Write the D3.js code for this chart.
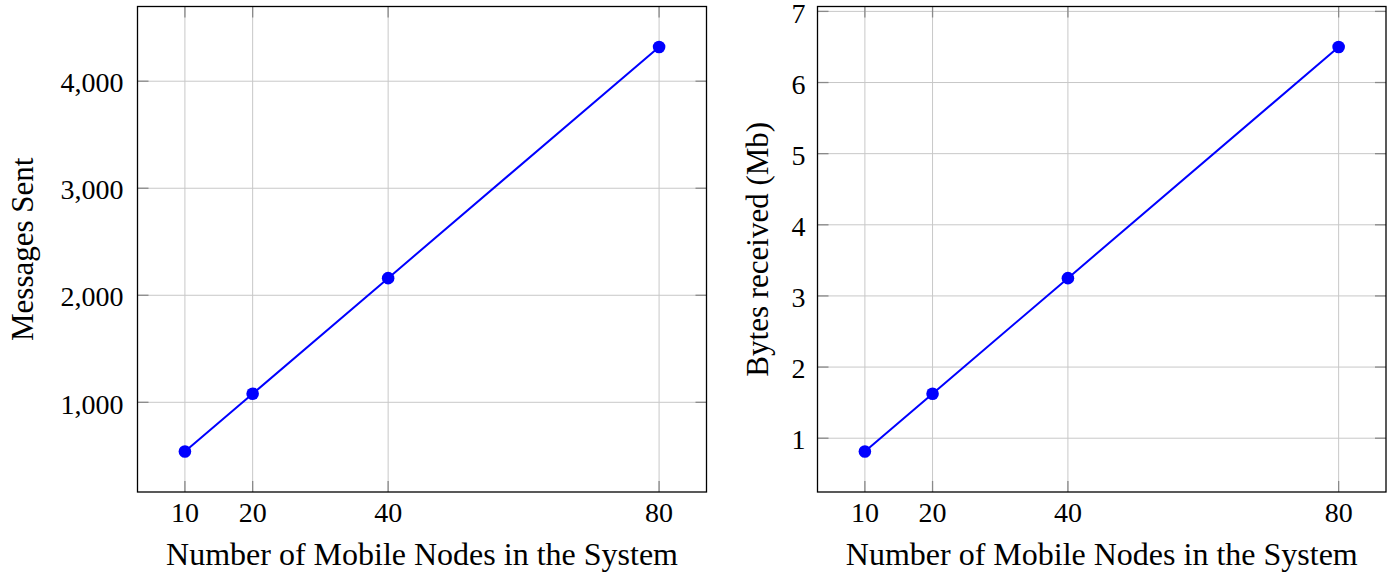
<!DOCTYPE html>
<html>
<head>
<meta charset="utf-8">
<script src="https://cdn.jsdelivr.net/npm/d3@7"></script>
<style>
  html, body { margin: 0; padding: 0; background: #fff; }
  svg { display: block; }
  text { font-family: "Liberation Serif", "DejaVu Serif", serif; fill: #000; }
</style>
</head>
<body>
<svg id="chart" width="1394" height="572"></svg>
<script>
// ---- data ----
const nodes = [10, 20, 40, 80];
const messagesSent = [540, 1080, 2160, 4320];
const bytesReceived = [0.8125, 1.625, 3.25, 6.5];
const xTicks = [10, 20, 40, 80];
const msgTicks = [1000, 2000, 3000, 4000];
const bytesTicks = [1, 2, 3, 4, 5, 6, 7];
const xLabel = "Number of Mobile Nodes in the System";
const msgLabel = "Messages Sent";
const bytesLabel = "Bytes received (Mb)";

const svg = d3.select("#chart");

function panel(opts) {
  const { left, right, top, bottom, xs, ys, yTicks, yFmt, yLabel, yLabelX, tickLabelGap } = opts;
  // enlarge limits by 10% like pgfplots
  const xr = d3.extent(xs), yr = d3.extent(ys);
  const xpad = (xr[1] - xr[0]) * 0.1, ypad = (yr[1] - yr[0]) * 0.1;
  const x = d3.scaleLinear().domain([xr[0] - xpad, xr[1] + xpad]).range([left, right]);
  const y = d3.scaleLinear().domain([yr[0] - ypad, yr[1] + ypad]).range([bottom, top]);
  const g = svg.append("g");

  // grid
  g.append("g").selectAll("line").data(xTicks).join("line")
    .attr("x1", d => x(d)).attr("x2", d => x(d))
    .attr("y1", top).attr("y2", bottom)
    .attr("stroke", "#c8c8c8").attr("stroke-width", 1);
  g.append("g").selectAll("line").data(yTicks).join("line")
    .attr("y1", d => y(d)).attr("y2", d => y(d))
    .attr("x1", left).attr("x2", right)
    .attr("stroke", "#c8c8c8").attr("stroke-width", 1);

  // ticks (inside, both sides)
  const tl = 11;
  const tk = g.append("g").attr("stroke", "#8a8a8a").attr("stroke-width", 1.3);
  xTicks.forEach(d => {
    tk.append("line").attr("x1", x(d)).attr("x2", x(d)).attr("y1", bottom).attr("y2", bottom - tl);
    tk.append("line").attr("x1", x(d)).attr("x2", x(d)).attr("y1", top).attr("y2", top + tl);
  });
  yTicks.forEach(d => {
    tk.append("line").attr("y1", y(d)).attr("y2", y(d)).attr("x1", left).attr("x2", left + tl);
    tk.append("line").attr("y1", y(d)).attr("y2", y(d)).attr("x1", right).attr("x2", right - tl);
  });

  // frame
  g.append("rect").attr("x", left).attr("y", top)
    .attr("width", right - left).attr("height", bottom - top)
    .attr("fill", "none").attr("stroke", "#000").attr("stroke-width", 1.3);

  // line + markers
  const pts = xs.map((d, i) => [d, ys[i]]);
  g.append("path").datum(pts)
    .attr("d", d3.line().x(d => x(d[0])).y(d => y(d[1])))
    .attr("fill", "none").attr("stroke", "#0000ff").attr("stroke-width", 2);
  g.append("g").selectAll("circle").data(pts).join("circle")
    .attr("cx", d => x(d[0])).attr("cy", d => y(d[1])).attr("r", 6.3)
    .attr("fill", "#0000ff");

  // tick labels
  g.append("g").selectAll("text").data(xTicks).join("text")
    .attr("x", d => x(d)).attr("y", bottom + 30)
    .attr("text-anchor", "middle").attr("font-size", 28)
    .text(d => d);
  g.append("g").selectAll("text").data(yTicks).join("text")
    .attr("x", left - tickLabelGap).attr("y", d => y(d))
    .attr("dy", "0.4em")
    .attr("text-anchor", "end").attr("font-size", 28)
    .text(yFmt);

  // axis labels
  g.append("text").attr("x", (left + right) / 2).attr("y", 565)
    .attr("text-anchor", "middle").attr("font-size", 32).text(xLabel);
  g.append("text")
    .attr("transform", `translate(${yLabelX},${(top + bottom) / 2}) rotate(-90)`)
    .attr("text-anchor", "middle").attr("font-size", 31).text(yLabel);
}

panel({
  left: 137.5, right: 706.5, top: 6.5, bottom: 492,
  xs: nodes, ys: messagesSent, yTicks: msgTicks,
  yFmt: d3.format(","), yLabel: msgLabel, yLabelX: 33, tickLabelGap: 14
});
panel({
  left: 817.5, right: 1386, top: 6.5, bottom: 492,
  xs: nodes, ys: bytesReceived, yTicks: bytesTicks,
  yFmt: d3.format("d"), yLabel: bytesLabel, yLabelX: 768, tickLabelGap: 12
});
</script>
</body>
</html>
